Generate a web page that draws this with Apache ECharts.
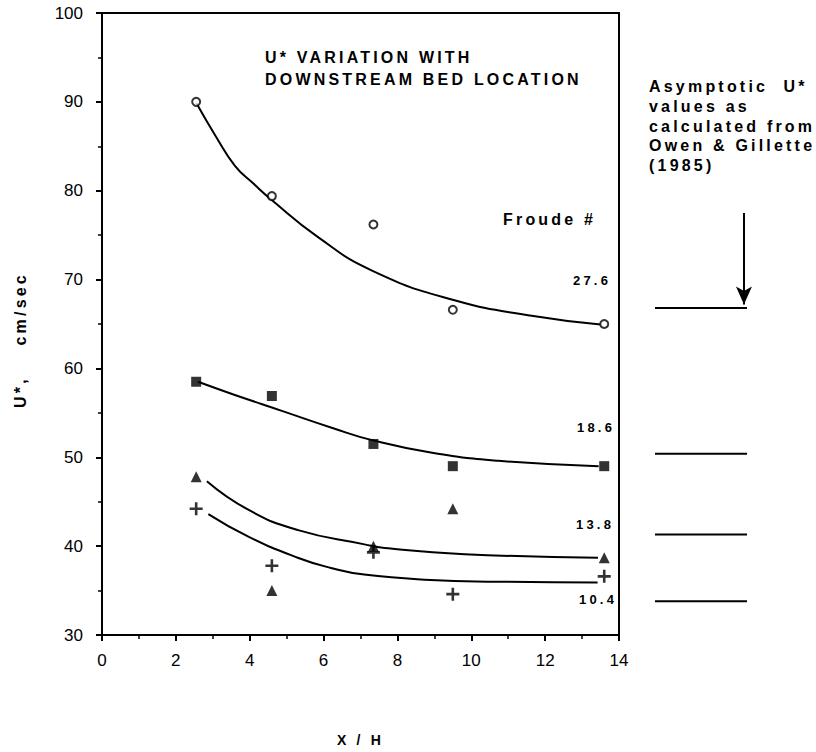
<!DOCTYPE html>
<html>
<head>
<meta charset="utf-8">
<script src="https://cdn.jsdelivr.net/npm/echarts@6/dist/echarts.min.js"></script>
<style>
html, body { margin: 0; padding: 0; background: #fff; }
#chart { width: 816px; height: 752px; }
/* the typed labels of the original are bold and widely spaced */
#chart svg text[style*="bold"] { letter-spacing: 3.2px; }
</style>
</head>
<body>
<div id="chart"></div>
<script>
// measured points, x = X/H
var xPts = [2.55, 4.6, 7.35, 9.5, 13.6];
var fr276 = [90.0, 79.4, 76.2, 66.6, 65.0];
var fr186 = [58.5, 56.9, 51.5, 49.0, 49.0];
var fr138 = [47.8, 35.0, 40.0, 44.2, 38.7];
var fr104 = [44.2, 37.8, 39.3, 34.6, 36.6];

// hand fitted curves
var curve276X = [2.55, 3.1, 3.6, 4.1, 4.58, 5.84, 7.34, 9.52, 11.68, 13.5];
var curve276Y = [89.9, 86.0, 82.8, 80.8, 79.0, 74.8, 70.95, 67.7, 65.9, 64.95];
var curve186X = [2.6, 3.54, 4.89, 6.24, 7.34, 8.94, 10.74, 13.45];
var curve186Y = [58.5, 57.1, 55.2, 53.3, 51.9, 50.5, 49.6, 49.0];
var curve138X = [2.84, 3.96, 5.31, 7.11, 7.65, 9.82, 13.43];
var curve138Y = [47.3, 44.1, 41.8, 40.2, 39.8, 39.1, 38.7];
var curve104X = [2.88, 3.95, 5.3, 6.2, 7.1, 8.9, 10.71, 13.42];
var curve104Y = [43.6, 41.1, 38.7, 37.55, 36.8, 36.2, 36.0, 35.9];

// asymptotic values (Owen & Gillette 1985), drawn right of the plot
var asymptotes = [66.8, 50.4, 41.3, 33.8];
var arrowX = 0.967;
var arrowFrom = 77.5;
var arrowTo = 67.2;

var froudeLabels = ['27.6', '18.6', '13.8', '10.4'];

function pairs(xs, ys) {
	var out = [];
	for (var i = 0; i < xs.length; i++) out.push([xs[i], ys[i]]);
	return out;
}

var plusPath = 'path://M4,0H6V4H10V6H6V10H4V6H0V4H4Z';
var fam = '"Liberation Sans", Arial, sans-serif';
var boldFont = 'bold 16px ' + fam;
var smallBold = 'bold 13px ' + fam;

var chart = echarts.init(document.getElementById('chart'), null, {renderer: 'svg'});

function curve(name, xs, ys) {
	return {
		name: name, type: 'line', xAxisIndex: 0, yAxisIndex: 0,
		data: pairs(xs, ys), smooth: 0.5, symbol: 'none',
		lineStyle: {color: '#000', width: 2}, z: 2
	};
}
function points(name, ys, symbol, size, style) {
	return {
		name: name, type: 'scatter', xAxisIndex: 0, yAxisIndex: 0,
		data: pairs(xPts, ys), symbol: symbol, symbolSize: size,
		itemStyle: style, z: 3
	};
}

var asymSeries = [];
for (var i = 0; i < asymptotes.length; i++) {
	var s = {
		type: 'line', xAxisIndex: 1, yAxisIndex: 1,
		data: [[0, asymptotes[i]], [1, asymptotes[i]]],
		symbol: 'none', lineStyle: {color: '#000', width: 2}
	};
	if (i == 0) {
		s.markLine = {
			silent: true, symbol: ['none', 'arrow'], symbolSize: [12, 18],
			label: {show: false},
			lineStyle: {color: '#000', width: 2, type: 'solid'},
			data: [[{coord: [arrowX, arrowFrom]}, {coord: [arrowX, arrowTo]}]]
		};
	}
	asymSeries.push(s);
}

var tickLabel = {color: '#000', fontSize: 17, fontFamily: fam};

chart.setOption({
	animation: false,
	backgroundColor: '#fff',
	grid: [
		{left: 102, right: 197, top: 13, bottom: 117, show: true, borderColor: '#000', borderWidth: 2},
		{left: 655, width: 92, top: 13, bottom: 117}
	],
	xAxis: [{
		type: 'value', gridIndex: 0, min: 0, max: 14, interval: 2,
		name: 'X / H', nameLocation: 'middle', nameGap: 98,
		nameTextStyle: {color: '#000', fontSize: 14, fontWeight: 'bold', fontFamily: fam},
		axisLine: {lineStyle: {color: '#000', width: 2}},
		axisTick: {show: true, length: 6, lineStyle: {color: '#000', width: 2}},
		minorTick: {show: true, splitNumber: 2, length: 4, lineStyle: {color: '#000', width: 1.5}},
		axisLabel: Object.assign({margin: 17}, tickLabel),
		splitLine: {show: false}
	}, {
		type: 'value', gridIndex: 1, min: 0, max: 1, show: false
	}],
	yAxis: [{
		type: 'value', gridIndex: 0, min: 30, max: 100, interval: 10,
		axisLine: {show: true, lineStyle: {color: '#000', width: 2}},
		axisTick: {show: true, length: 6, lineStyle: {color: '#000', width: 2}},
		minorTick: {show: true, splitNumber: 2, length: 4, lineStyle: {color: '#000', width: 1.5}},
		axisLabel: Object.assign({margin: 19}, tickLabel),
		splitLine: {show: false}
	}, {
		type: 'value', gridIndex: 1, min: 30, max: 100, show: false
	}],
	graphic: [
		{type: 'text', x: 265, y: 47, style: {text: 'U* VARIATION WITH\nDOWNSTREAM BED LOCATION', font: boldFont, fill: '#000', lineHeight: 21.5}},
		{type: 'text', x: 503, y: 211, style: {text: 'Froude #', font: boldFont, fill: '#000'}},
		{type: 'text', x: 573, y: 274, style: {text: froudeLabels[0], font: smallBold, fill: '#000'}},
		{type: 'text', x: 577, y: 421, style: {text: froudeLabels[1], font: smallBold, fill: '#000'}},
		{type: 'text', x: 576, y: 518, style: {text: froudeLabels[2], font: smallBold, fill: '#000'}},
		{type: 'text', x: 579, y: 593, style: {text: froudeLabels[3], font: smallBold, fill: '#000'}},
		{type: 'text', x: 649, y: 77, style: {
			text: 'Asymptotic\u00a0\u00a0U*\nvalues as\ncalculated from\nOwen & Gillette\n(1985)',
			font: boldFont, fill: '#000', lineHeight: 19.7}},
		{type: 'text', x: 12, y: 340, rotation: Math.PI / 2, style: {
			text: 'U*,\u00a0\u00a0\u00a0\u00a0cm/sec', font: boldFont, fill: '#000',
			textAlign: 'center', align: 'center'}}
	],
	series: [
		curve('27.6', curve276X, curve276Y),
		curve('18.6', curve186X, curve186Y),
		curve('13.8', curve138X, curve138Y),
		curve('10.4', curve104X, curve104Y),
		points('27.6 pts', fr276, 'circle', 8, {color: '#fff', borderColor: '#000', borderWidth: 2}),
		points('18.6 pts', fr186, 'rect', 10, {color: '#000'}),
		points('13.8 pts', fr138, 'triangle', 11, {color: '#000'}),
		points('10.4 pts', fr104, plusPath, 13, {color: '#000'})
	].concat(asymSeries)
});
</script>
</body>
</html>
